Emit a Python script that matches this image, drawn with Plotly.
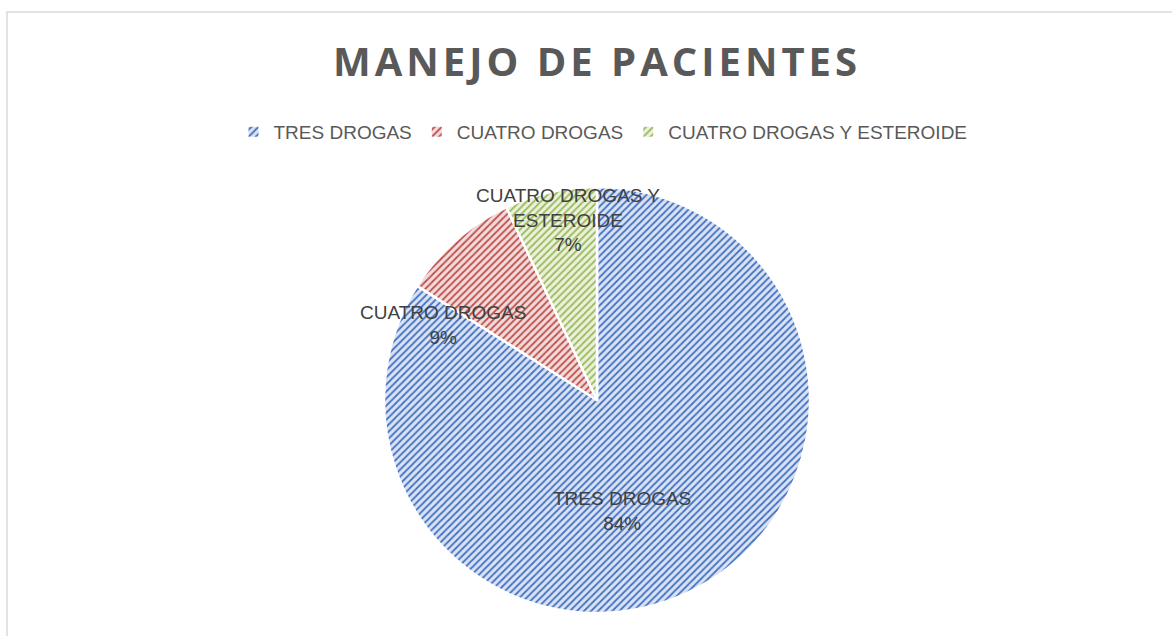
import plotly.graph_objects as go

categories = ["TRES DROGAS", "CUATRO DROGAS", "CUATRO DROGAS Y ESTEROIDE"]
values = [84, 9, 7]
fg_colors = ["#4472C4", "#C0504D", "#9BBB59"]
bg_colors = ["#DAE3F3", "#F2DCDB", "#EBF1DE"]

W, H = 1172, 636
cx, cy, r = 597, 400, 213

fig = go.Figure(go.Pie(
    labels=categories,
    values=values,
    sort=False,
    direction="clockwise",
    rotation=0,
    textinfo="none",
    hoverinfo="label+percent",
    marker=dict(
        colors=bg_colors,
        line=dict(color="white", width=2.5),
        pattern=dict(shape="/", fillmode="overlay", fgcolor=fg_colors,
                     fgopacity=1, size=5, solidity=0.36),
    ),
    domain=dict(x=[(cx - r) / W, (cx + r) / W], y=[1 - (cy + r) / H, 1 - (cy - r) / H]),
))

# data labels (label + percent), positioned like the reference's best-fit labels
label_text = ["TRES DROGAS", "CUATRO DROGAS", "CUATRO DROGAS Y<br>ESTEROIDE"]
label_pos = [(622, 511), (443, 325), (568, 220)]
total = sum(values)
annotations = []
for txt, v, (px, py) in zip(label_text, values, label_pos):
    pct = round(100 * v / total)
    annotations.append(dict(
        x=px / W, y=1 - py / H, xref="paper", yref="paper",
        text=f"{txt}<br>{pct}%", showarrow=False,
        font=dict(family="Liberation Sans", size=19, color="#404040"),
        xanchor="center", yanchor="middle", align="center",
    ))

fig.update_layout(
    width=W, height=H,
    margin=dict(l=0, r=0, t=0, b=0),
    paper_bgcolor="white",
    title=dict(
        text='<span style="letter-spacing:4px">MANEJO DE PACIENTES</span>',
        x=597 / W, xanchor="center", y=1 - 62 / H, yanchor="middle",
        font=dict(family="Open Sans", size=40, color="#595959", weight="bold"),
    ),
    showlegend=True,
    legend=dict(
        orientation="h", x=603 / W, xanchor="center", y=1 - 132 / H, yanchor="middle",
        font=dict(family="Liberation Sans", size=19, color="#595959"),
        itemsizing="constant", traceorder="normal",
    ),
    annotations=annotations,
    shapes=[dict(type="rect", xref="paper", yref="paper",
                 x0=7 / W, x1=1.02, y0=-0.02, y1=1 - 12 / H,
                 line=dict(color="#D9D9D9", width=1.5), fillcolor="rgba(0,0,0,0)")],
)

fig.write_html("out.html", config={"displayModeBar": False},
               post_script="document.body.style.margin='0';")
